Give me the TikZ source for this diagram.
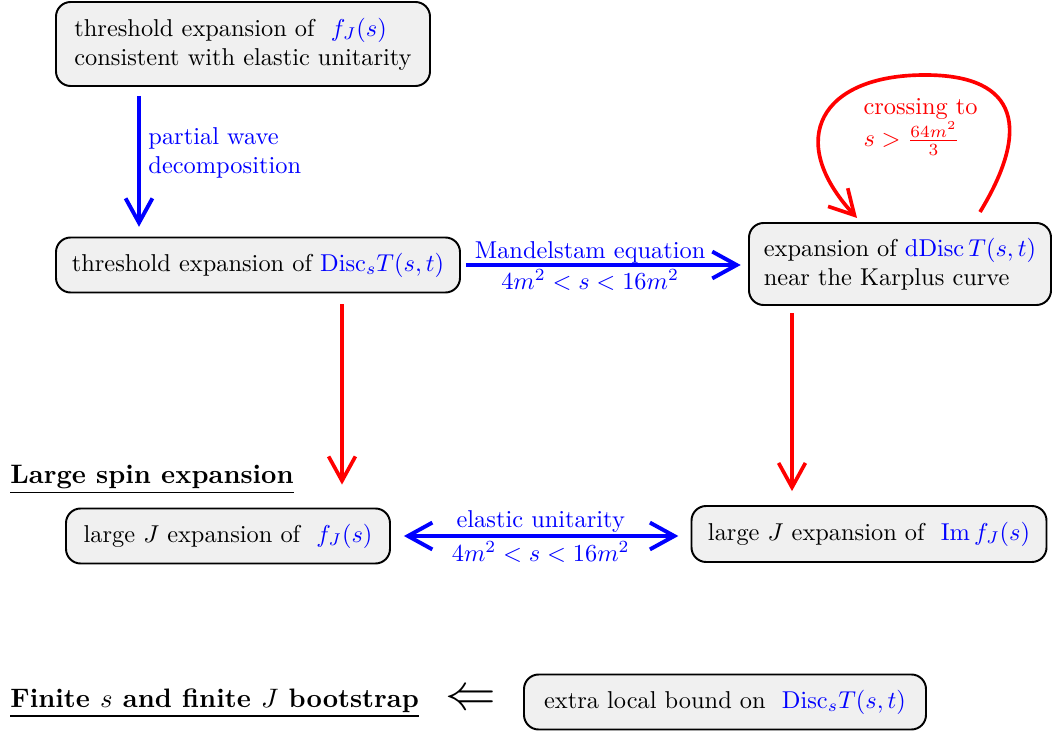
\documentclass[tikz,border=0pt]{standalone}
\usepackage{amsmath}
\usetikzlibrary{arrows.meta}
\definecolor{boxgray}{gray}{0.94}
\begin{document}
\begin{tikzpicture}[x=0.41pt,y=-0.41pt,
  box/.style={draw=black, line width=0.8pt, rounded corners=6pt, fill=boxgray, align=left, inner sep=0pt},
  sz/.style 2 args={minimum width=#1*0.41pt, minimum height=#2*0.41pt},
  bluearr/.style={draw=blue, line width=1.6pt, -{Straight Barb[length=10pt,width=11pt]}},
  bluedbl/.style={draw=blue, line width=1.6pt, {Straight Barb[length=10pt,width=11pt]}-{Straight Barb[length=10pt,width=11pt]}},
  redarr/.style={draw=red, line width=1.5pt, -{Straight Barb[length=10pt,width=11pt]}},
  lbl/.style={inner sep=0pt, align=left},
  head/.style={inner sep=0pt, align=left, font=\fontsize{10.95}{13}\selectfont\bfseries}]
\useasboundingbox (0,0) rectangle (1052,731);

\node[box, sz={374}{84}] (A) at (243,44) {threshold expansion of \ {\color{blue}$f_J(s)$}\\consistent with elastic unitarity};
\node[box, sz={404}{55}] (B) at (258,265) {threshold expansion of {\color{blue}$\mathrm{Disc}_sT(s,t)$}};
\node[box, sz={302}{82}] (C) at (900,264) {expansion of {\color{blue}$\mathrm{dDisc}\,T(s,t)$}\\near the Karplus curve};
\node[box, sz={324}{55}] (D) at (228,536) {large $J$ expansion of \ {\color{blue}$f_J(s)$}};
\node[box, sz={355}{56}] (E) at (869,534) {large $J$ expansion of \ {\color{blue}$\mathrm{Im}\,f_J(s)$}};
\node[box, sz={402}{55}] (F) at (725,702) {extra local bound on \ {\color{blue}$\mathrm{Disc}_sT(s,t)$}};

\node[head, anchor=west] (H1) at (10,480) {\underline{Large spin expansion}};
\node[head, anchor=west] (H2) at (10,703) {\underline{Finite $s$ and finite $J$ bootstrap}};
\node[inner sep=0pt] (L) at (471,700) {\huge$\Leftarrow$};

\coordinate (x1) at (139,0);
\coordinate (x2) at (342,0);
\coordinate (x3) at (792,0);
\draw[bluearr, shorten <=3.7pt, shorten >=4pt] (A.south -| x1) -- (B.north -| x1);
\node[lbl, blue, anchor=west] (pw) at (148,153) {partial wave\\decomposition};

\draw[bluearr, shorten <=2pt, shorten >=3pt] (B.east) -- (B.east -| C.west)
  node[pos=0.45, above=0pt, blue, inner sep=0pt] {Mandelstam equation}
  node[pos=0.45, below=1pt, blue, inner sep=0pt] {$4m^2<s<16m^2$};

\draw[bluedbl, shorten <=5.3pt, shorten >=5pt] (D.east) -- (D.east -| E.west)
  node[pos=0.5, above=0.5pt, blue, inner sep=0pt] {elastic unitarity}
  node[pos=0.5, below=1.5pt, blue, inner sep=0pt] {$4m^2<s<16m^2$};

\draw[redarr, shorten <=4.5pt, shorten >=9.4pt] (B.south -| x2) -- (D.north -| x2);
\draw[redarr, shorten <=3pt, shorten >=5.7pt] (C.south -| x3) -- (E.north -| x3);

\coordinate (ls) at (980,212);
\coordinate (le) at (857,218);
\draw[redarr] (ls) .. controls (1030,130) and (1020,75) .. (925,75) .. controls (820,75) and (785,140) .. (le);
\node[lbl, red, anchor=west] (cr) at (863,127) {crossing to\\$s>\frac{64m^2}{3}$};
\end{tikzpicture}
\end{document}
